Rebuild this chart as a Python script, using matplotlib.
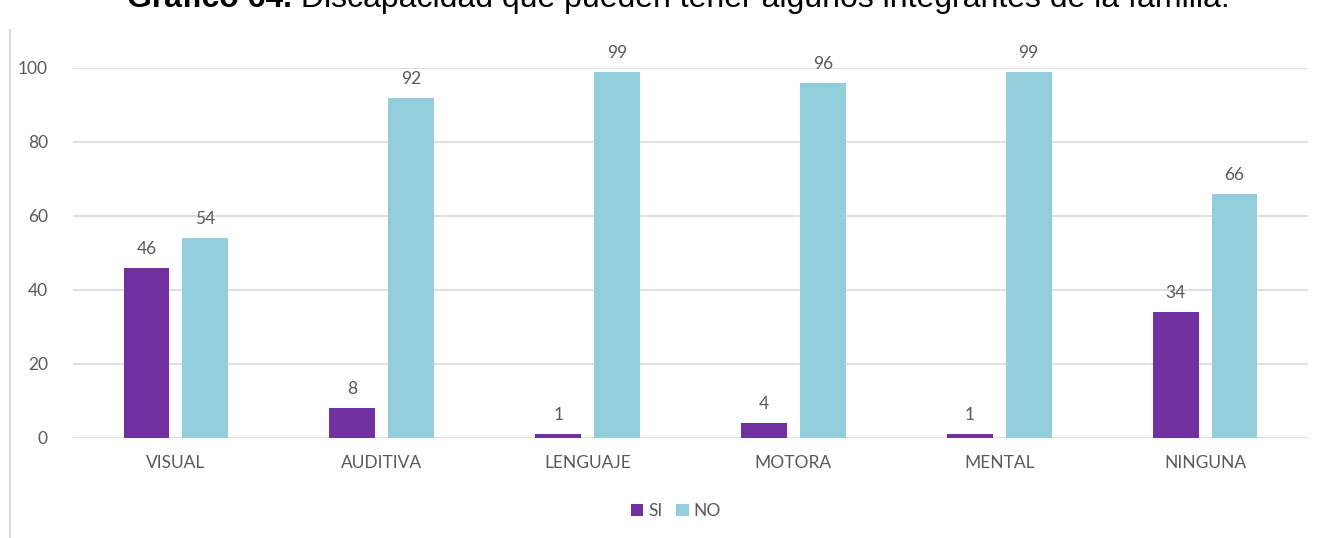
import numpy as np
import matplotlib.pyplot as plt
from matplotlib.lines import Line2D

categorias = ['VISUAL', 'AUDITIVA', 'LENGUAJE', 'MOTORA', 'MENTAL', 'NINGUNA']
si = [46, 8, 1, 4, 1, 34]
no = [54, 92, 99, 96, 99, 66]
yticks = [0, 20, 40, 60, 80, 100]
titulo_neg = 'Gráfico 64.'
titulo = ' Discapacidad que pueden tener algunos integrantes de la familia.'

morado = '#7030A0'
celeste = '#92CDDC'
gris = '#595959'

plt.rcParams['font.family'] = ['Lato', 'DejaVu Sans']

W, H = 1321, 538
fig = plt.figure(figsize=(W/100, H/100), dpi=100)
ax = fig.add_axes([73/W, 1 - 438/H, 1235/W, 370/H])

x = np.arange(len(categorias))
w = 0.223
b1 = ax.bar(x - 0.143, si, w, color=morado, label='SI', zorder=3)
b2 = ax.bar(x + 0.143, no, w, color=celeste, label='NO', zorder=3)

for barras in (b1, b2):
    for r in barras:
        ax.text(r.get_x() + r.get_width()/2, r.get_height() + 3, str(int(r.get_height())),
                ha='center', va='bottom', fontsize=12.5, color=gris, clip_on=False)

ax.set_xlim(-0.5, len(categorias) - 0.5)
ax.set_ylim(0, 100)
ax.set_yticks(yticks)
ax.set_xticks(x)
ax.set_xticklabels(categorias)
ax.tick_params(axis='both', length=0, labelsize=12.5, colors=gris)
ax.tick_params(axis='x', pad=12)
ax.tick_params(axis='y', pad=18)
ax.grid(axis='y', color='#D9D9D9', linewidth=1.2, zorder=0)
for s in ax.spines.values():
    s.set_visible(False)

leg = fig.legend(handles=[b1, b2], loc='center', bbox_to_anchor=(676/W, 1 - 511/H),
                 ncol=2, frameon=False, fontsize=12.5, handlelength=0.7, handleheight=0.7,
                 columnspacing=0.8, handletextpad=0.3)
for t in leg.get_texts():
    t.set_color(gris)

# titulo cortado arriba como en la imagen original
t1 = fig.text(127/W, 1 - 7/H, titulo_neg, ha='left', va='baseline', fontsize=23,
              family='Liberation Sans', weight='bold')
fig.canvas.draw()
bb = t1.get_window_extent()
fig.text(bb.x1/W, 1 - 7/H, titulo, ha='left', va='baseline', fontsize=23,
         family='Liberation Sans')

fig.add_artist(Line2D([10/W, 10/W], [0, 1 - 30/H], color='#D9D9D9', linewidth=1.5))

fig.savefig('out.png', dpi=100)
